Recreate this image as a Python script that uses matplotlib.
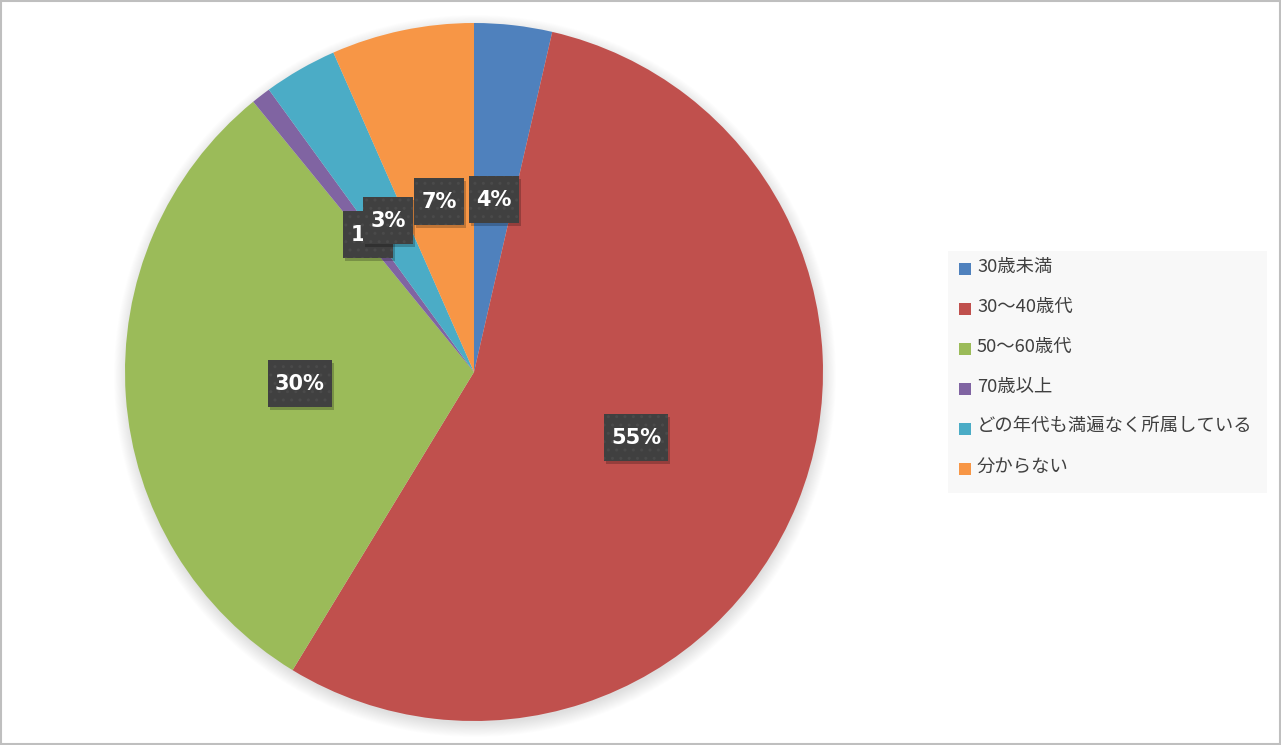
import matplotlib as mpl
mpl.use('Agg')
import matplotlib.pyplot as plt
from matplotlib.patches import Rectangle, Circle

#
#--- data (percent share, clockwise from top)
#
categories = ['30歳未満', '30～40歳代', '50～60歳代', '70歳以上',
              'どの年代も満遍なく所属している', '分からない']
values     = [3.6, 55.1, 30.4, 0.9, 3.4, 6.6]
colors     = ['#4F81BD', '#C0504D', '#9BBB59', '#8064A2', '#4BACC6', '#F79646']

#
#--- label box centres (image pixels), drawn in this order
#
label_pos   = [(494, 199), (636, 437), (300, 383), (368, 234), (388, 220), (439, 201)]
label_order = [1, 2, 3, 4, 5, 0]

W, H = 1281, 745
plt.rcParams['font.family'] = ['Noto Sans CJK JP', 'DejaVu Sans']

fig = plt.figure(figsize=(W / 100, H / 100), dpi=100)
ax  = fig.add_axes([0, 0, 1, 1])

cx, cy, rad = 474, H - 372, 349

#
#--- soft shadow behind the pie, slightly lower than the pie
#
for k in range(16):
    ax.add_patch(Circle((cx + 1, cy - 4), rad + 12 - k * 0.9, color='black',
                        alpha=0.009, lw=0, zorder=1))

ax.pie(values, colors=colors, startangle=90, counterclock=False,
       center=(cx, cy), radius=rad, frame=True,
       wedgeprops=dict(linewidth=0, zorder=2))
ax.set_xlim(0, W)
ax.set_ylim(0, H)
ax.set_aspect('equal')
ax.axis('off')

#
#--- data labels: dark boxes with white bold text
#
for n, i in enumerate(label_order):
    x, y = label_pos[i]
    y    = H - y
    txt  = '%d%%' % round(values[i])
    bw   = 64 if len(txt) > 2 else 50
    bh   = 47
    z    = 5 + n
    ax.add_patch(Rectangle((x - bw / 2 + 2, y - bh / 2 - 3), bw, bh,
                           facecolor='black', alpha=0.22, lw=0, zorder=z))
    ax.add_patch(Rectangle((x - bw / 2, y - bh / 2), bw, bh, facecolor='#404040',
                           edgecolor='#4a4a4a', hatch='..', lw=0, zorder=z + 0.1))
    ax.text(x, y - 1, txt, color='white', fontsize=15, fontweight='bold',
            family='DejaVu Sans', ha='center', va='center', zorder=z + 0.2)

#
#--- legend panel
#
ax.add_patch(Rectangle((948, H - 493), 319, 242, facecolor='#F8F8F8', lw=0, zorder=1))
for j, (cat, col) in enumerate(zip(categories, colors)):
    ly = H - (269 + 40 * j)
    ax.add_patch(Rectangle((959, ly - 6), 12, 12, facecolor=col, lw=0, zorder=3))
    ax.text(977, ly + 2, cat, color='#404040', fontsize=13.2, ha='left', va='center', zorder=3)

#
#--- outer border
#
ax.add_patch(Rectangle((1, 1), W - 2, H - 2, fill=False, edgecolor='#BFBFBF', lw=1.5, zorder=20))

fig.savefig('out.png', dpi=100, facecolor='white')
